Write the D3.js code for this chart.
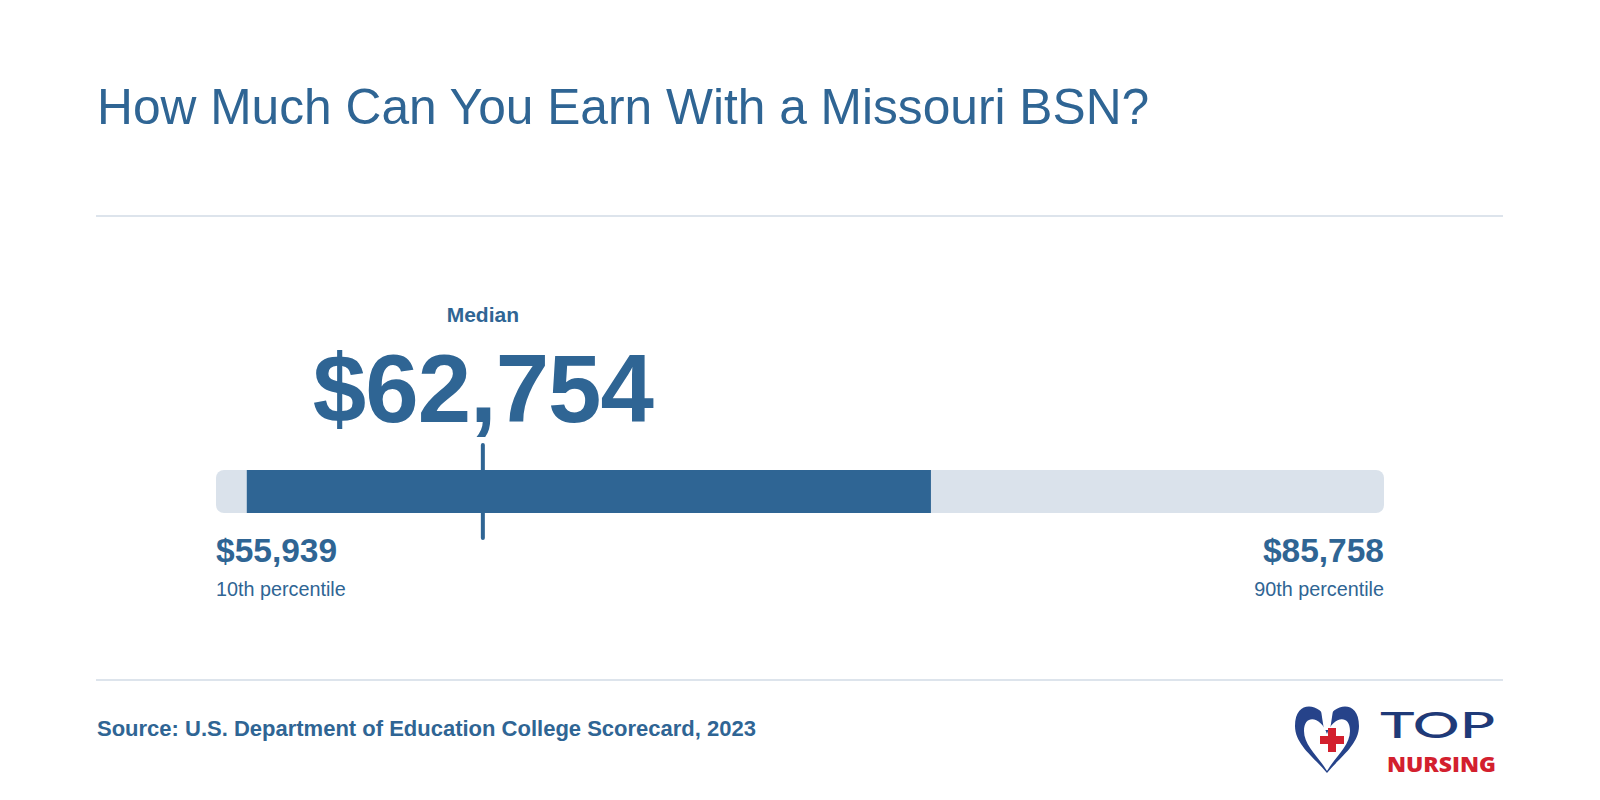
<!DOCTYPE html>
<html>
<head>
<meta charset="utf-8">
<script src="https://cdn.jsdelivr.net/npm/d3@7"></script>
<style>
  html, body { margin: 0; padding: 0; background: #ffffff; }
  svg { display: block; }
  text { font-family: "Liberation Sans", Arial, Helvetica, sans-serif; }
</style>
</head>
<body>
<div id="chart"></div>
<script>
// values
var title = "How Much Can You Earn With a Missouri BSN?";
var source = "Source: U.S. Department of Education College Scorecard, 2023";
var labels = ["10th percentile", "Median", "90th percentile"];
var salaries = [55939, 62754, 85758];
var band = [55939, 75690];          // dark band (end)
var track = [55050, 88770];         // grey track extent (estimated)

var width = 1600, height = 800;
var blue = "#2f6594", grey = "#dae2eb", rule = "#dde4ec";

var svg = d3.select("#chart").append("svg")
  .attr("width", width)
  .attr("height", height);

var x = d3.scaleLinear().domain(track).range([216, 1384]);
var fmt = d3.format("$,");

// title + dividers
svg.append("text")
  .attr("x", 97).attr("y", 124)
  .attr("fill", blue)
  .style("font-size", "49.7px")
  .text(title);

svg.selectAll(".rule")
  .data([216, 680])
  .enter().append("line")
    .attr("class", "rule")
    .attr("x1", 96).attr("x2", 1503)
    .attr("y1", function(d) { return d; })
    .attr("y2", function(d) { return d; })
    .attr("stroke", rule)
    .attr("stroke-width", 2);

// track
var barY = 470, barH = 43;
svg.append("rect")
  .attr("x", x(track[0]))
  .attr("width", x(track[1]) - x(track[0]))
  .attr("y", barY).attr("height", barH)
  .attr("rx", 8)
  .attr("fill", grey);

svg.append("rect")
  .attr("x", x(band[0]))
  .attr("width", x(band[1]) - x(band[0]))
  .attr("y", barY).attr("height", barH)
  .attr("fill", blue);

// median marker
var med = salaries[1];
svg.append("line")
  .attr("x1", x(med)).attr("x2", x(med))
  .attr("y1", 445).attr("y2", 538)
  .attr("stroke", blue)
  .attr("stroke-width", 4)
  .attr("stroke-linecap", "round");

svg.append("text")
  .attr("x", x(med)).attr("y", 322)
  .attr("text-anchor", "middle")
  .attr("fill", blue)
  .style("font-size", "21px").style("font-weight", "bold")
  .text(labels[1]);

svg.append("text")
  .attr("x", x(med)).attr("y", 422)
  .attr("text-anchor", "middle")
  .attr("fill", blue)
  .style("font-size", "96px").style("font-weight", "bold")
  .style("letter-spacing", "-1px")
  .text(fmt(med));

// end labels
var ends = [
  { value: salaries[0], label: labels[0], x: x(track[0]), anchor: "start" },
  { value: salaries[2], label: labels[2], x: x(track[1]), anchor: "end" }
];
var g = svg.selectAll(".end")
  .data(ends)
  .enter().append("g")
    .attr("class", "end");

g.append("text")
  .attr("x", function(d) { return d.x; })
  .attr("y", 562)
  .attr("text-anchor", function(d) { return d.anchor; })
  .attr("fill", blue)
  .style("font-size", "33.5px").style("font-weight", "bold")
  .text(function(d) { return fmt(d.value); });

g.append("text")
  .attr("x", function(d) { return d.x; })
  .attr("y", 596)
  .attr("text-anchor", function(d) { return d.anchor; })
  .attr("fill", blue)
  .style("font-size", "19.8px")
  .text(function(d) { return d.label; });

// source
svg.append("text")
  .attr("x", 97).attr("y", 736)
  .attr("fill", blue)
  .style("font-size", "22px").style("font-weight", "bold")
  .text(source);

// logo
var logo = svg.append("g").attr("transform", "translate(1327,740)");
logo.append("path")
  .attr("d", "M0,-19 C-6,-37 -32,-41 -32,-14 C-32,5 -12,18 0,33 C12,18 32,5 32,-14 C32,-41 6,-37 0,-19 Z " +
             "M0,-6 C-5,-23 -23,-27 -23,-9 C-23,6 -8,17 0,31 C8,17 23,6 23,-9 C23,-27 5,-23 0,-6 Z")
  .attr("fill", "#26438a")
  .attr("fill-rule", "evenodd");
logo.append("path")
  .attr("d", "M-7,-36 L7,-36 L3,-10 L-3,-10 Z")
  .attr("fill", "#fff");
logo.append("path")
  .attr("d", "M1,-12 h8 v8 h8 v8 h-8 v8 h-8 v-8 h-8 v-8 h8 Z")
  .attr("fill", "#d3202e");

svg.append("text")
  .attr("x", 1380).attr("y", 738)
  .attr("fill", "#1f3a78")
  .style("font-family", "Lato, 'Noto Sans', sans-serif")
  .style("font-size", "36px").style("font-weight", "500")
  .attr("textLength", 115)
  .attr("lengthAdjust", "spacingAndGlyphs")
  .text("TOP");

svg.append("text")
  .attr("x", 1387).attr("y", 772)
  .attr("fill", "#d3202e")
  .style("font-family", "'Open Sans', 'Noto Sans', sans-serif")
  .style("font-size", "21px").style("font-weight", "800")
  .attr("textLength", 109)
  .attr("lengthAdjust", "spacingAndGlyphs")
  .text("NURSING");
</script>
</body>
</html>
